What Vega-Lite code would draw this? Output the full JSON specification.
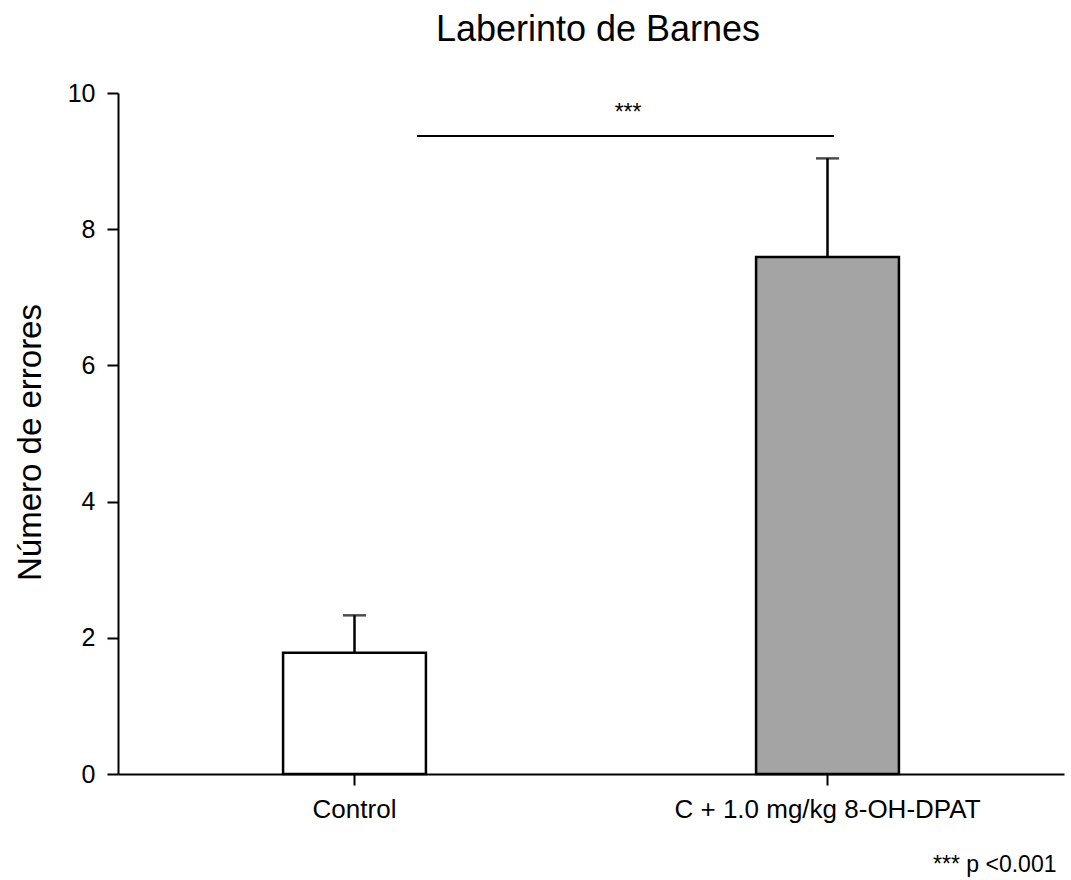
{
  "$schema": "https://vega.github.io/schema/vega-lite/v6.json",
  "autosize": {"type": "none"},
  "width": 946,
  "height": 681,
  "padding": {"left": 118, "top": 93, "right": 7, "bottom": 106},
  "background": "white",
  "config": {
    "view": {"stroke": null},
    "font": "Liberation Sans",
    "axis": {"grid": false, "domainColor": "black", "tickColor": "black", "labelColor": "black", "titleColor": "black", "labelFont": "Liberation Sans", "titleFont": "Liberation Sans", "titleFontWeight": "normal"}
  },
  "title": {"text": "Laberinto de Barnes", "fontSize": 36, "font": "Liberation Sans", "fontWeight": "normal", "color": "black", "anchor": "middle", "offset": 32, "dx": 7},
  "datasets": {
    "grupos": [
      {"grupo": "Control", "media": 1.78, "superior": 2.33},
      {"grupo": "C + 1.0 mg/kg 8-OH-DPAT", "media": 7.59, "superior": 9.04}
    ],
    "comparacion": [
      {"desde": "Control", "hasta": "C + 1.0 mg/kg 8-OH-DPAT", "nivel": 9.37, "texto_nivel": 9.71, "marca": "***"}
    ]
  },
  "layer": [
    {
      "data": {"name": "grupos"},
      "mark": {"type": "bar", "stroke": "black", "strokeWidth": 2.5},
      "encoding": {
        "x": {
          "field": "grupo", "type": "nominal",
          "scale": {"domain": ["Control", "C + 1.0 mg/kg 8-OH-DPAT"], "paddingInner": 0.698, "paddingOuter": 0.349},
          "axis": {
            "labelAngle": 0, "labelFontSize": 26, "labelPadding": 11, "labelLimit": 0,
            "tickSize": 11, "tickWidth": 2, "domainWidth": 2,
            "title": "*** p <0.001", "titleFontSize": 23, "titleAnchor": "end",
            "titleAlign": "right", "titleBaseline": "alphabetic", "titleX": 938, "titleY": 97
          }
        },
        "y": {
          "field": "media", "type": "quantitative",
          "scale": {"domain": [0, 10], "nice": false},
          "axis": {
            "values": [0, 2, 4, 6, 8, 10], "format": "d", "labelFontSize": 25, "labelPadding": 12,
            "tickSize": 11, "tickWidth": 2, "domainWidth": 2,
            "title": "Número de errores", "titleFontSize": 33,
            "titleBaseline": "alphabetic", "titleAngle": -90, "titleAlign": "center",
            "titleX": -78, "titleY": 349
          }
        },
        "fill": {
          "field": "grupo", "type": "nominal", "legend": null,
          "scale": {"domain": ["Control", "C + 1.0 mg/kg 8-OH-DPAT"], "range": ["white", "#a4a4a4"]}
        }
      }
    },
    {
      "data": {"name": "grupos"},
      "mark": {"type": "rule", "color": "black", "strokeWidth": 2.5},
      "encoding": {
        "x": {"field": "grupo", "type": "nominal"},
        "y": {"field": "media", "type": "quantitative"},
        "y2": {"field": "superior"}
      }
    },
    {
      "data": {"name": "grupos"},
      "mark": {"type": "tick", "color": "black", "size": 23, "thickness": 2.5},
      "encoding": {
        "x": {"field": "grupo", "type": "nominal"},
        "y": {"field": "superior", "type": "quantitative"}
      }
    },
    {
      "data": {"name": "comparacion"},
      "mark": {"type": "rule", "color": "black", "strokeWidth": 2},
      "encoding": {
        "x": {"field": "desde", "type": "nominal", "bandPosition": 0.937},
        "x2": {"field": "hasta", "bandPosition": 0.546},
        "y": {"field": "nivel", "type": "quantitative"}
      }
    },
    {
      "data": {"name": "comparacion"},
      "mark": {"type": "text", "fontSize": 23, "color": "black", "align": "center", "baseline": "middle", "dx": -128},
      "encoding": {
        "x": {"field": "hasta", "type": "nominal", "bandPosition": 0},
        "y": {"field": "texto_nivel", "type": "quantitative"},
        "text": {"field": "marca"}
      }
    }
  ]
}
